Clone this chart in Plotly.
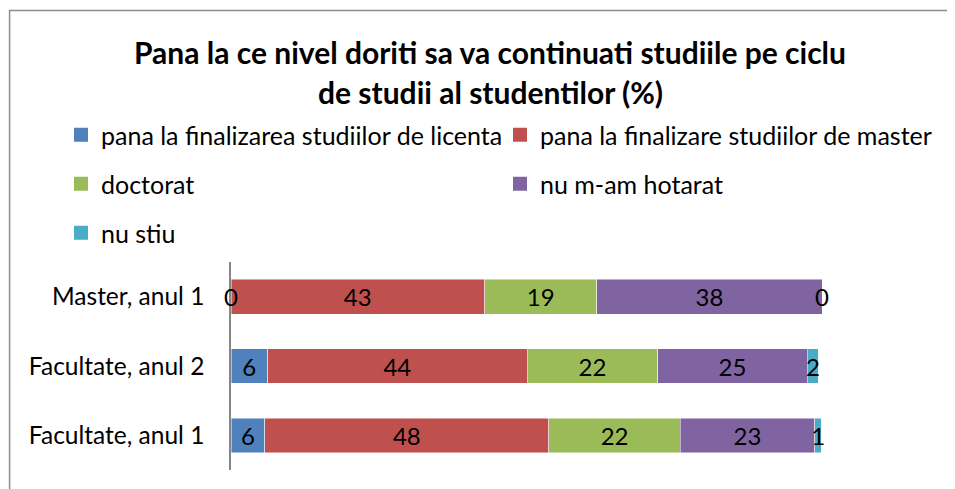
import plotly.graph_objects as go

categories = ["Facultate, anul 1", "Facultate, anul 2", "Master, anul 1"]
series_names = [
    "pana la finalizarea studiilor de licenta",
    "pana la finalizare studiilor de master",
    "doctorat",
    "nu m-am hotarat",
    "nu stiu",
]
licenta = [5.7, 6.2, 0.0]
master = [48.1, 43.9, 42.9]
doctorat = [22.2, 22.1, 19.0]
nehotarat = [22.8, 25.3, 38.1]
nu_stiu = [1.1, 1.9, 0.0]
colors = ["#4F81BD", "#C0504D", "#9BBB59", "#8064A2", "#4BACC6"]
title_lines = ["Pana la ce nivel doriti sa va continuati studiile pe ciclu",
               "de studii al studentilor (%)"]

FONT = "Lato"
W, H = 955, 489
OFF = 8  # page body margin
L = 230.5 - OFF
PW = 591.2
R = W - L - PW
T = 262 - OFF
B = H - (470 - OFF)

series = [licenta, master, doctorat, nehotarat, nu_stiu]
legend_ids = ["legend", "legend2", "legend3", "legend4", "legend5"]
# legend positions (reference page pixels): text start x, row centre y
legend_pos = [(101, 135), (540, 135), (101, 184), (540, 184), (101, 233)]

fig = go.Figure()
for name, vals, col in zip(series_names, series, colors):
    fig.add_trace(go.Bar(
        y=categories, x=vals, name=name, orientation="h", showlegend=False,
        marker=dict(color=col, line=dict(color="rgba(255,255,255,0.6)", width=0.8)),
        texttemplate="%{x:.0f}", textposition="inside", insidetextanchor="middle",
        textangle=0, textfont=dict(family=FONT, size=24, color="black"),
        constraintext="none", cliponaxis=False,
    ))
# legend swatches (square markers, no data points)
for name, col, lg in zip(series_names, colors, legend_ids):
    fig.add_trace(go.Scatter(
        x=[None], y=[None], mode="markers", name=name, legend=lg, showlegend=True,
        marker=dict(symbol="square", size=14, color=col),
    ))

plot_h = H - T - B


def py2paper(py):
    return (H - B - (py - OFF)) / plot_h


def px2paper(px):
    return (px - OFF - L) / PW


annotations = []
for line, py in zip(title_lines, [52, 92]):
    annotations.append(dict(text="<b>" + line + "</b>", x=px2paper(490), y=py2paper(py),
                            xref="paper", yref="paper", xanchor="center", yanchor="middle",
                            showarrow=False, font=dict(family=FONT, size=30, color="black")))

# labels for zero-width segments, placed at their stacked position
for ci, cat in enumerate(categories):
    cum = 0.0
    for vals in series:
        v = vals[ci]
        if v == 0:
            annotations.append(dict(text="%.0f" % v, x=cum, y=cat, xref="x", yref="y",
                                    showarrow=False, xanchor="center", yanchor="middle",
                                    font=dict(family=FONT, size=24, color="black")))
        cum += v

legends = {}
for lg, (tx, ty) in zip(legend_ids, legend_pos):
    legends[lg] = dict(orientation="v", xref="container", yref="container",
                       x=(tx - OFF - 40) / W, y=1 - (ty - OFF) / H,
                       xanchor="left", yanchor="middle",
                       font=dict(family=FONT, size=25, color="black"), itemwidth=30,
                       bgcolor="rgba(0,0,0,0)", traceorder="normal")

fig.update_layout(
    width=W, height=H, barmode="stack", bargap=0.5,
    margin=dict(l=L, r=R, t=T, b=B, autoexpand=False),
    paper_bgcolor="white", plot_bgcolor="white",
    showlegend=True,
    uniformtext=dict(minsize=24, mode="show"),
    xaxis=dict(range=[0, 100], visible=False, fixedrange=True),
    yaxis=dict(showline=True, linecolor="#868686", linewidth=1.5, ticks="",
               showgrid=False, zeroline=False, ticklabelstandoff=20,
               tickfont=dict(family=FONT, size=24.5, color="black")),
    annotations=annotations,
    shapes=[dict(type="rect", xref="paper", yref="paper",
                 x0=px2paper(9), x1=px2paper(1100), y0=py2paper(600), y1=py2paper(10.5),
                 line=dict(color="#8C8C8C", width=1.5), fillcolor="rgba(0,0,0,0)", layer="below")],
    font=dict(family=FONT),
    **legends,
)

fig.write_html("out.html")
